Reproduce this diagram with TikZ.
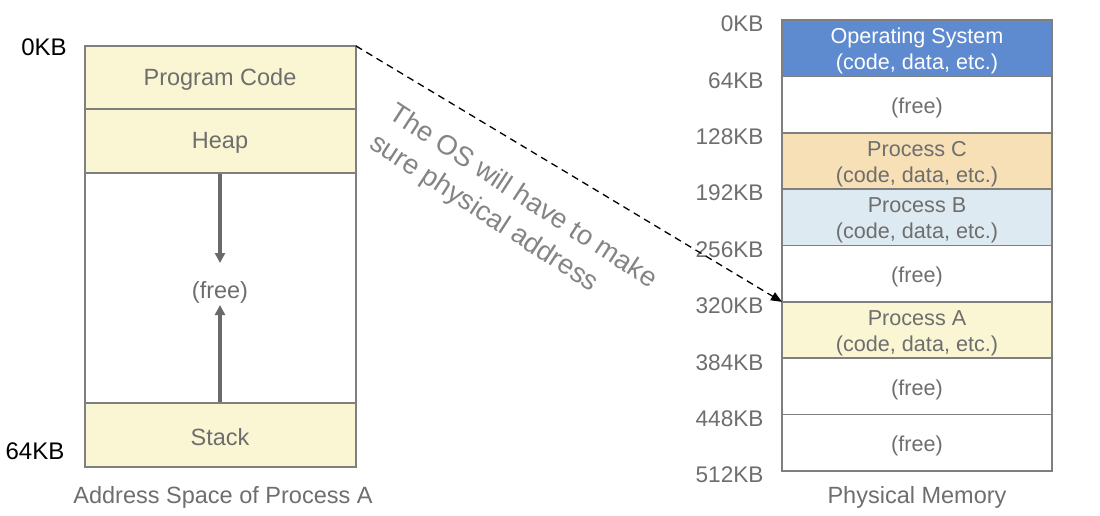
\documentclass[tikz,border=0pt]{standalone}
\usepackage{fontspec}
\setmainfont{Liberation Sans}
\usetikzlibrary{arrows.meta}
\definecolor{bordergray}{HTML}{7F7F7F}
\definecolor{textgray}{HTML}{6E6E6E}
\definecolor{arrowgray}{HTML}{6A6A6A}
\definecolor{procyellow}{HTML}{FAF6D4}
\definecolor{osblue}{HTML}{5E8BD0}
\definecolor{procorange}{HTML}{F7DFB6}
\definecolor{procblue}{HTML}{DEEAF1}
\tikzset{
  seg/.style={draw=bordergray, line width=1.6pt},
  lbl/.style={text=textgray, font=\fontsize{23.5}{27}\selectfont, align=center},
  rlbl/.style={text=textgray, font=\fontsize{21.6}{26}\selectfont, align=center},
  addr/.style={text=textgray, font=\fontsize{22.6}{26}\selectfont, anchor=east},
  addrblk/.style={text=black, font=\fontsize{24}{28}\selectfont},
  growarrow/.style={draw=arrowgray, line width=3.2pt, -{Triangle[length=10pt,width=10pt]}},
}
\begin{document}
\begin{tikzpicture}[x=1pt,y=-1pt]
\useasboundingbox (0,0) rectangle (1100,516);
% left address space
\fill[procyellow] (85,46) rectangle (356,173);
\fill[procyellow] (85,403) rectangle (356,467);
\draw[seg] (85,46) rectangle (356,467);
\draw[seg] (85,109) -- (356,109);
\draw[seg] (85,173) -- (356,173);
\draw[seg] (85,403) -- (356,403);
\coordinate (ltr) at (356,46);
\node[lbl] (pc) at (220,79) {Program Code};
\node[lbl] (heap) at (220,143) {Heap};
\node[lbl] (lfree) at (220,292) {(free)};
\node[lbl] (stack) at (220,437) {Stack};
\coordinate (heapbot) at (220,174);
\coordinate (heaptip) at (220,263);
\coordinate (stacktop) at (220,402);
\coordinate (stacktip) at (220,305);
\draw[growarrow] (heapbot) -- (heaptip);
\draw[growarrow] (stacktop) -- (stacktip);
\node[addrblk] (l0) at (44,47) {0KB};
\node[addrblk] (l64) at (35,451) {64KB};
\node[lbl] (lcap) at (223,497) {Address Space of Process A};
% right physical memory
\def\rowh{56.375}
\fill[osblue] (782,20) rectangle (1052,{20+\rowh});
\fill[procorange] (782,{20+2*\rowh}) rectangle (1052,{20+3*\rowh});
\fill[procblue] (782,{20+3*\rowh}) rectangle (1052,{20+4*\rowh});
\fill[procyellow] (782,{20+5*\rowh}) rectangle (1052,{20+6*\rowh});
\draw[seg] (782,20) rectangle (1052,471);
\foreach \i in {1,...,7} {\draw[seg] (782,{20+\i*\rowh}) -- (1052,{20+\i*\rowh});}
\foreach \i/\t in {0/0KB,1/64KB,2/128KB,3/192KB,4/256KB,5/320KB,6/384KB,7/448KB,8/512KB} {
  \node[addr] (a\i) at (767,{24+\i*\rowh}) {\t};
}
\node[rlbl, text=white] (os) at (917,{23+0.5*\rowh}) {Operating System\\(code, data, etc.)};
\node[rlbl] (f1) at (917,{23+1.5*\rowh}) {(free)};
\node[rlbl] (pC) at (917,{23+2.5*\rowh}) {Process C\\(code, data, etc.)};
\node[rlbl] (pB) at (917,{23+3.5*\rowh}) {Process B\\(code, data, etc.)};
\node[rlbl] (f2) at (917,{23+4.5*\rowh}) {(free)};
\node[rlbl] (pA) at (917,{23+5.5*\rowh}) {Process A\\(code, data, etc.)};
\node[rlbl] (f3) at (917,{23+6.5*\rowh}) {(free)};
\node[rlbl] (f4) at (917,{23+7.5*\rowh}) {(free)};
\node[lbl] (pmcap) at (917,497) {Physical Memory};
\coordinate (pAtl) at (782,{20+5*\rowh});
% mapping arrow
\draw[line width=1.3pt, dash pattern=on 7pt off 5pt, -{Triangle[length=11pt,width=9pt]}] (ltr) -- (pAtl);
\node[text=textgray!85, font=\fontsize{27.5}{35}\selectfont, align=left, rotate=-33, anchor=north west, inner sep=0pt] (note) at (398,101) {The OS will have to make\\sure physical address};
\end{tikzpicture}
\end{document}
